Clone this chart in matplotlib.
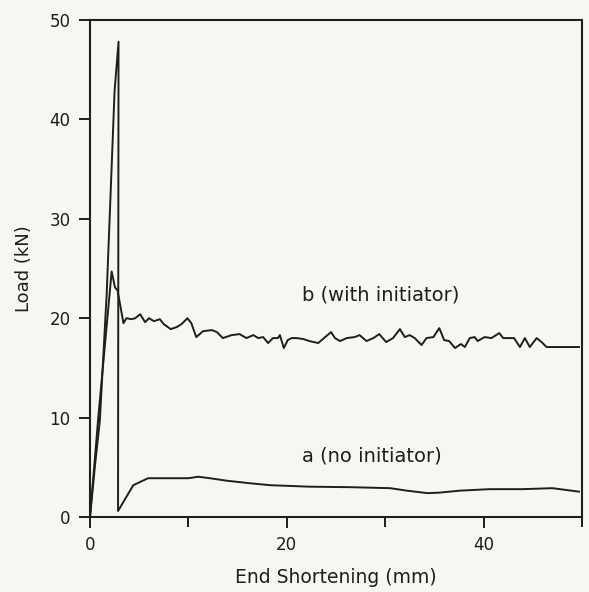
import numpy as np
import matplotlib.pyplot as plt
from matplotlib.ticker import FixedLocator

# curve a: no initiator
a_x = [0, 0.5, 1.0, 1.7, 2.5, 2.9, 2.85, 4.4, 5.9, 8.1, 10.0, 11.0, 12.2, 13.9,
       16.2, 18.3, 22.3, 26.4, 30.5, 32.2, 34.3, 35.5, 37.6, 40.6, 44.0, 47.0, 49.7]
a_load = [0, 5.1, 9.7, 22.5, 42.9, 47.8, 0.6, 3.2, 3.9, 3.9, 3.9, 4.05, 3.9, 3.65,
          3.4, 3.2, 3.05, 3.0, 2.9, 2.65, 2.4, 2.45, 2.65, 2.8, 2.8, 2.9, 2.55]

# curve b: with initiator
b_x = [0, 0.85, 2.2, 2.54, 2.8, 3.4, 3.7, 4.2, 4.6, 5.1, 5.6, 6.0, 6.5, 7.1, 7.5,
       8.2, 8.8, 9.3, 9.9, 10.3, 10.8, 11.5, 12.4, 12.9, 13.5, 14.4, 15.2, 15.9,
       16.6, 17.1, 17.6, 18.1, 18.6, 19.1, 19.3, 19.7, 20.1, 20.5, 21.0, 21.7,
       22.3, 23.2, 23.9, 24.5, 24.9, 25.4, 26.1, 26.9, 27.4, 28.1, 28.8, 29.4,
       30.1, 30.8, 31.5, 32.0, 32.5, 33.0, 33.7, 34.2, 34.9, 35.5, 36.0, 36.5,
       37.1, 37.7, 38.1, 38.6, 39.1, 39.4, 40.1, 40.8, 41.6, 42.0, 42.6, 43.1,
       43.7, 44.2, 44.7, 45.4, 45.9, 46.4, 49.7]
b_load = [0, 10.1, 24.7, 23.1, 22.8, 19.5, 20.0, 19.9, 20.0, 20.4, 19.6, 20.0,
          19.7, 19.9, 19.4, 18.9, 19.1, 19.4, 20.0, 19.5, 18.1, 18.7, 18.8, 18.6,
          18.0, 18.3, 18.4, 18.0, 18.3, 18.0, 18.1, 17.5, 18.0, 18.0, 18.3, 17.0,
          17.8, 18.0, 18.0, 17.9, 17.7, 17.5, 18.1, 18.6, 18.0, 17.7, 18.0, 18.1,
          18.3, 17.7, 18.0, 18.4, 17.6, 18.0, 18.9, 18.1, 18.3, 18.0, 17.3, 18.0,
          18.1, 19.0, 17.8, 17.7, 17.0, 17.4, 17.1, 18.0, 18.1, 17.7, 18.1, 18.0,
          18.5, 18.0, 18.0, 18.0, 17.1, 18.0, 17.1, 18.0, 17.6, 17.1, 17.1]

x_major = [0, 20, 40]
x_minor = [10, 30, 50]
y_ticks = [0, 10, 20, 30, 40, 50]

ink = '#1e1e1e'
paper = '#f6f6f3'

fig = plt.figure(figsize=(5.89, 5.92), dpi=100, facecolor=paper)
ax = fig.add_axes([0.1528, 0.1267, 0.8352, 0.8395], facecolor=paper)

ax.plot(a_x, a_load, color=ink, lw=1.4)
ax.plot(b_x, b_load, color=ink, lw=1.4)

# curve labels
ax.text(21.5, 22.3, 'b (with initiator)', fontsize=14, color=ink, va='center')
ax.text(21.5, 6.1, 'a (no initiator)', fontsize=14, color=ink, va='center')

ax.set_xlim(0, 50)
ax.set_ylim(0, 50)
ax.xaxis.set_major_locator(FixedLocator(x_major))
ax.xaxis.set_minor_locator(FixedLocator(x_minor))
ax.set_yticks(y_ticks)

ax.tick_params(which='major', direction='out', length=8, width=1.4, colors=ink,
               labelsize=12, pad=6)
ax.tick_params(which='minor', direction='out', length=7, width=1.4, colors=ink)
for s in ax.spines.values():
    s.set_linewidth(1.5)
    s.set_color(ink)

ax.set_xlabel('End Shortening (mm)', fontsize=13.5, color=ink, labelpad=10)
ax.set_ylabel('Load (kN)', fontsize=13, color=ink, labelpad=12)

fig.savefig('out.png', dpi=100, facecolor=paper)
